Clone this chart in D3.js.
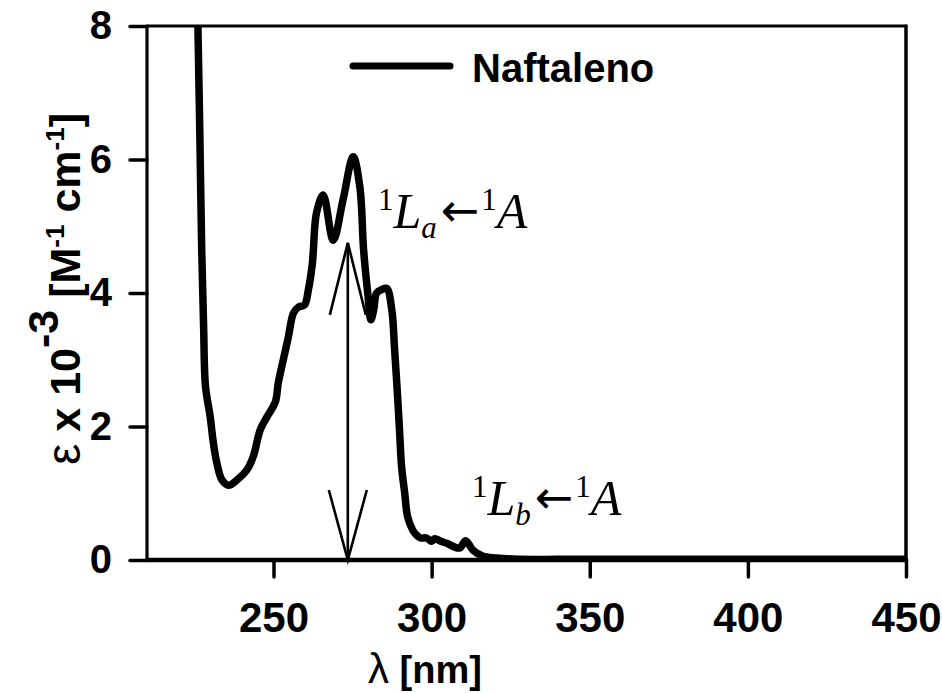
<!DOCTYPE html>
<html><head><meta charset="utf-8">
<script src="https://cdn.jsdelivr.net/npm/d3@7"></script>
<style>body{margin:0;background:#fff}svg{display:block}</style>
</head><body>
<svg id="c" width="942" height="693"></svg>
<script>
// Data (wavelength in nm, epsilon x 10^-3)
const wavelength = [226.1,226.7,227.3,227.9,228.5,230.0,231.0,232.1,233.7,235.8,238.5,241.6,243.6,245.8,247.9,250.6,251.5,253.1,254.7,256.3,257.9,259.8,261.0,262.3,262.6,263.6,265.7,268.9,272.0,275.2,277.3,278.5,279.8,280.8,281.7,282.6,284.2,285.8,287.4,288.3,289.3,289.9,290.5,291.5,292.4,294.0,295.3,296.5,298.4,300.0,301.0,302.9,304.8,307.0,308.9,310.8,313.0,316.1,320.5,327.8,340,353,365,380,400,420,450];
const epsilon    = [8.0,6.4,4.64,3.5,2.6,2.14,1.75,1.45,1.2,1.12,1.2,1.35,1.55,1.95,2.14,2.37,2.65,3.0,3.34,3.7,3.79,3.82,4.04,4.45,4.64,5.2,5.47,4.79,5.4,6.04,5.59,4.64,4.0,3.6,3.75,4.0,4.05,4.07,3.75,3.15,2.4,1.9,1.4,1.0,0.65,0.45,0.37,0.33,0.33,0.28,0.32,0.28,0.25,0.2,0.18,0.29,0.15,0.06,0.03,0.01,0.01,0.01,0.01,0.01,0.01,0.01,0.01];
const xTicks = [250,300,350,400,450];
const yTicks = [0,2,4,6,8];
const xDomain = [210,450];
const yDomain = [0,8];
const seriesName = "Naftaleno";
const arrowX = 273.5, arrowTop = 4.75, arrowBottom = 0;

const svg = d3.select("#c");
const L = 147, R = 906, T = 26, B = 560;
const x = d3.scaleLinear().domain(xDomain).range([L, R]);
const y = d3.scaleLinear().domain(yDomain).range([B, T]);
const font = "'Liberation Sans', Arial, sans-serif";

svg.append("defs").append("clipPath").attr("id","clip")
  .append("rect").attr("x",L).attr("y",T).attr("width",R-L).attr("height",B-T);

// axes
const gx = svg.append("g").attr("transform",`translate(0,${B})`)
  .call(d3.axisBottom(x).tickValues(xTicks).tickSize(17).tickPadding(30).tickFormat(d3.format("d")));
const gy = svg.append("g").attr("transform",`translate(${L},0)`)
  .call(d3.axisLeft(y).tickValues(yTicks).tickSize(17).tickPadding(18).tickFormat(d3.format("d")));
[gx, gy].forEach(g => {
  g.select(".domain").remove();
  g.selectAll(".tick line").attr("stroke","#000").attr("stroke-width",3.5).attr("stroke-linecap","round");
  g.selectAll(".tick text").attr("fill","#000").style("font-family",font).style("font-weight","bold").style("font-size","40px");
});
gx.selectAll(".tick text").attr("dy","0.6em").style("font-size","42px");

// frame
const frame = svg.append("g").attr("stroke","#000").attr("stroke-linecap","round");
frame.append("line").attr("x1",L).attr("x2",R).attr("y1",y(0)).attr("y2",y(0)).attr("stroke-width",4.5);
frame.append("line").attr("x1",L).attr("x2",L).attr("y1",y(8)).attr("y2",y(0)).attr("stroke-width",3.2);
frame.append("line").attr("x1",L).attr("x2",R).attr("y1",y(8)).attr("y2",y(8)).attr("stroke-width",3.2);
frame.append("line").attr("x1",R).attr("x2",R).attr("y1",y(8)).attr("y2",y(0)).attr("stroke-width",3.5);

// arrow (double headed, open heads)
const ax = x(arrowX), ayT = y(arrowTop), ayB = y(arrowBottom);
const ag = svg.append("g").attr("stroke","#000").attr("stroke-width",2.6).attr("fill","none");
ag.append("line").attr("x1",ax).attr("x2",ax).attr("y1",ayT).attr("y2",ayB);
ag.append("path").attr("d",`M${ax-18},${ayT+72}L${ax},${ayT}L${ax+18},${ayT+72}`);
ag.append("path").attr("d",`M${ax-19},${ayB-70}L${ax},${ayB}L${ax+19},${ayB-70}`);

// curve
const pts = wavelength.map((w,i)=>[w, epsilon[i]]);
svg.append("path").datum(pts).attr("clip-path","url(#clip)")
  .attr("fill","none").attr("stroke","#000").attr("stroke-width",7.5)
  .attr("stroke-linejoin","round").attr("stroke-linecap","round")
  .attr("d", d3.line().x(d=>x(d[0])).y(d=>y(d[1])).curve(d3.curveCatmullRom.alpha(0.5)));

// legend
svg.append("line").attr("x1",353).attr("x2",450).attr("y1",66).attr("y2",66)
  .attr("stroke","#000").attr("stroke-width",7).attr("stroke-linecap","round");
svg.append("text").attr("x",472).attr("y",82).text(seriesName)
  .style("font-family",font).style("font-weight","bold").style("font-size","40px");

// transition labels
function transition(px, py, sub){
  const t = svg.append("text").attr("x",px).attr("y",py)
    .style("font-family","'Liberation Serif','Times New Roman',serif").attr("fill","#000");
  t.append("tspan").attr("font-size",31).attr("dy",-18).text("1");
  t.append("tspan").attr("font-size",50).attr("font-style","italic").attr("dy",18).text("L");
  t.append("tspan").attr("font-size",31).attr("font-style","italic").attr("dy",10).text(sub);
  t.append("tspan").attr("font-size",46).attr("dy",-12).attr("dx",4)
    .style("font-family","'DejaVu Sans',sans-serif").text("\u2190");
  t.append("tspan").attr("font-size",31).attr("dy",-16).attr("dx",2).text("1");
  t.append("tspan").attr("font-size",50).attr("font-style","italic").attr("dy",18).text("A");
}
transition(378, 228, "a");
transition(472, 515, "b");

// axis titles
const xt = svg.append("text").attr("x",425).attr("y",683).attr("text-anchor","middle")
  .style("font-family",font).style("font-size","38px").style("font-weight","bold");
xt.append("tspan").style("font-weight","normal").style("font-size","42px").text("\u03bb");
xt.append("tspan").text(" [nm]");

const yt = svg.append("text").attr("transform","translate(80,289) rotate(-90)").attr("text-anchor","middle")
  .style("font-family",font).style("font-size","43px").style("font-weight","bold");
yt.append("tspan").style("font-weight","normal").style("font-size","48px").text("\u03b5");
yt.append("tspan").text(" x 10");
yt.append("tspan").attr("dy",-22).text("-3");
yt.append("tspan").attr("dy",22).text(" [M");
yt.append("tspan").attr("dy",-16).attr("font-size",26).text("-1");
yt.append("tspan").attr("dy",16).text(" cm");
yt.append("tspan").attr("dy",-16).attr("font-size",26).text("-1");
yt.append("tspan").attr("dy",16).text("]");
</script>
</body></html>
